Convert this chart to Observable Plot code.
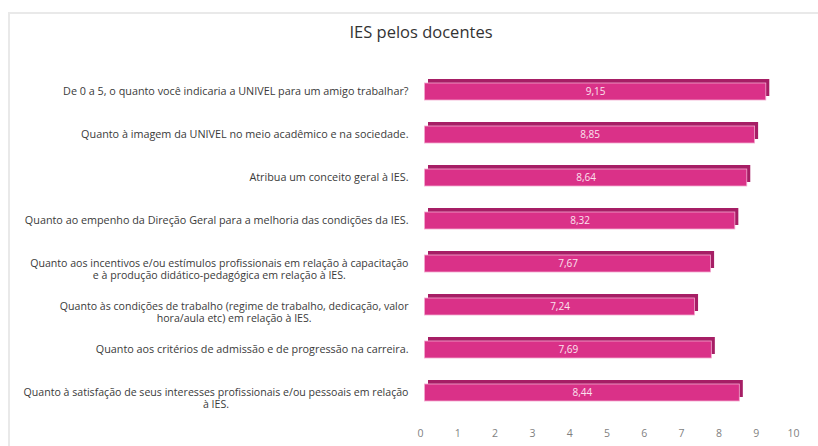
<!DOCTYPE html>
<html><head><meta charset="utf-8">
<script src="https://cdn.jsdelivr.net/npm/d3@7"></script>
<script src="https://cdn.jsdelivr.net/npm/@observablehq/plot@0.6"></script>
<style>
body{margin:0;background:#fff;font-family:"Open Sans",sans-serif;}
#wrap{position:relative;width:818px;height:446px;overflow:hidden;background:#fff;}
#frame{position:absolute;left:8px;top:12px;width:900px;height:500px;border:2px solid #e9e9e9;box-sizing:border-box;}
#title{position:absolute;left:0;top:22px;width:842px;text-align:center;font-size:16.5px;line-height:20px;color:#333;}
#chart{position:absolute;left:0;top:50px;}
</style></head>
<body>
<div id="wrap"><div id="frame"></div><div id="title">IES pelos docentes</div><div id="chart"></div></div>
<script>
const questions = [
  "De 0 a 5, o quanto você indicaria a UNIVEL para um amigo trabalhar?",
  "Quanto à imagem da UNIVEL no meio acadêmico e na sociedade.",
  "Atribua um conceito geral à IES.",
  "Quanto ao empenho da Direção Geral para a melhoria das condições da IES.",
  "Quanto aos incentivos e/ou estímulos profissionais em relação à capacitação\ne à produção didático-pedagógica em relação à IES.",
  "Quanto às condições de trabalho (regime de trabalho, dedicação, valor\nhora/aula etc) em relação à IES.",
  "Quanto aos critérios de admissão e de progressão na carreira.",
  "Quanto à satisfação de seus interesses profissionais e/ou pessoais em relação\nà IES."
];
const scores = [9.15, 8.85, 8.64, 8.32, 7.67, 7.24, 7.69, 8.44];
const scoreLabels = ["9,15", "8,85", "8,64", "8,32", "7,67", "7,24", "7,69", "8,44"];
const xTicks = [0, 1, 2, 3, 4, 5, 6, 7, 8, 9, 10];

const data = questions.map((q, i) => ({q, v: scores[i], label: scoreLabels[i]}));
const multi = d => d.q.includes("\n");

const chart = Plot.plot({
  width: 818, height: 396,
  marginLeft: 420, marginRight: 25, marginTop: 6.4, marginBottom: 18,
  style: {fontFamily: "'Open Sans', sans-serif", background: "transparent"},
  x: {domain: [0, 10], axis: null},
  y: {domain: questions, padding: 0.6, axis: null},
  marks: [
    Plot.barX(data, {x: "v", y: "q", fill: "#a61e65", dx: 8, dy: -4}),
    Plot.barX(data, {x: "v", y: "q", fill: "#da3188", stroke: "#f3aacf", strokeWidth: 0.8, dx: 4.5}),
    Plot.text(data, {x: d => d.v / 2, y: "q", text: "label", fill: "#fbe3ef", fontSize: 10, dx: 4.5}),
    Plot.text(data, {filter: d => !multi(d), x: 0, y: "q", text: "q", textAnchor: "end", dx: -12, fontSize: 10.8, fill: "#3a3a3a"}),
    Plot.text(data, {filter: multi, x: 0, y: "q", text: "q", textAnchor: "end", dx: -12, dy: 5, fontSize: 10.6, lineHeight: 1.2, fill: "#3a3a3a", className: "qlabels"}),
    Plot.axisX({ticks: xTicks, tickSize: 0, tickPadding: 1, fontSize: 10.5, color: "#7f7f7f", tickFormat: d => String(d), label: null})
  ]
});
document.getElementById("chart").appendChild(chart);

// center multi-line labels as a block, right-aligned to the axis side
chart.querySelectorAll(".qlabels text").forEach(t => {
  const spans = t.querySelectorAll("tspan");
  if (spans.length < 2) return;
  let W = 0;
  spans.forEach(s => { W = Math.max(W, s.getComputedTextLength()); });
  t.setAttribute("text-anchor", "middle");
  spans.forEach(s => {
    const bx = parseFloat(s.getAttribute("x") || "0");
    s.setAttribute("x", bx - W / 2);
  });
});
</script>
</body></html>
